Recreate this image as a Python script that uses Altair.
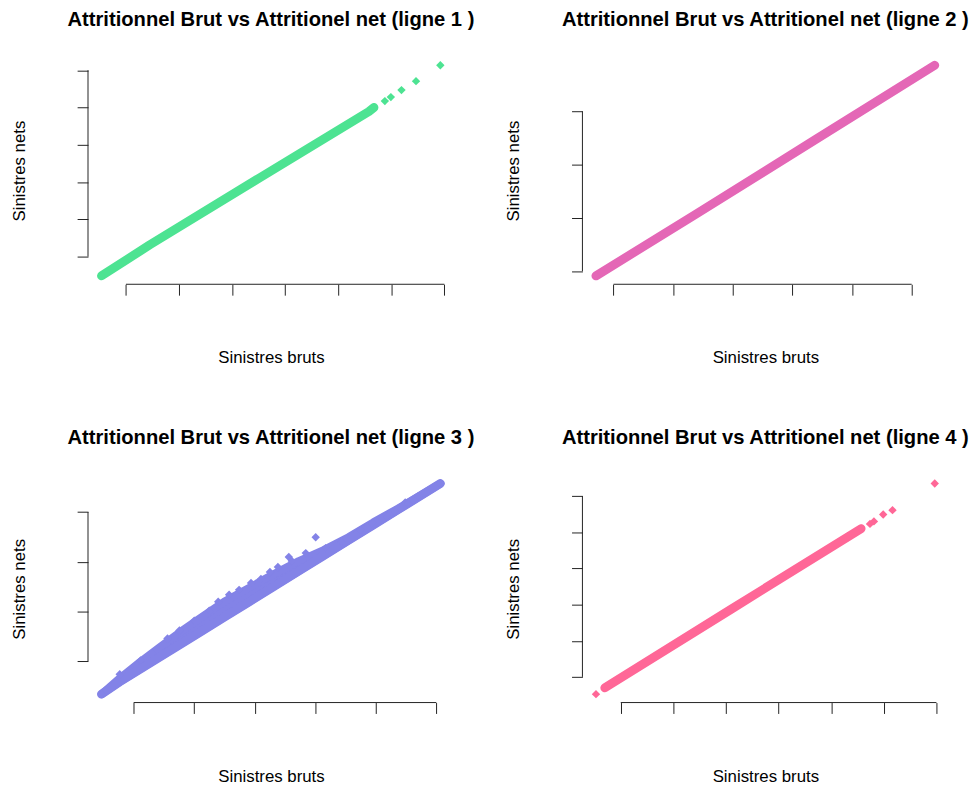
import altair as alt
import pandas as pd

FONT = "Liberation Sans"
TITLE = "Attritionnel Brut vs Attritionel net (ligne {} )"
AXIS_COLOR = "#222222"

# ---- ligne 1 : dense band of claims, then the few largest ones
l1_band_brut = [5.40, 14.50, 35.14, 55.78, 56.72]
l1_band_net = [4.82, 13.15, 31.09, 48.92, 49.99]
l1_pts_brut = [5.40, 56.72, 58.78, 59.91, 61.91, 64.65, 69.23]
l1_pts_net = [4.82, 49.99, 51.72, 52.79, 54.66, 57.06, 61.33]
l1_xticks = [10, 20, 30, 40, 50, 60, 70]
l1_yticks = [10, 20, 30, 40, 50, 60]

# ---- ligne 2
l2_band_brut = [7.06, 24.00, 43.85, 63.87]
l2_band_net = [9.12, 20.84, 34.71, 48.68]
l2_pts_brut = [7.06, 62.20, 63.87]
l2_pts_net = [9.12, 47.60, 48.68]
l2_xticks = [10, 20, 30, 40, 50, 60]
l2_yticks = [10, 20, 30, 40]

# ---- ligne 3 : wedge of claims, net above gross for part of them
l3_cloud_brut = [4.70, 7.70, 10.99, 14.27, 17.56, 20.84, 24.95, 29.06,
                 33.17, 37.28, 41.38, 45.49, 49.60, 53.71, 60.66]
l3_cloud_net_bas = [3.34, 5.82, 8.30, 10.78, 13.26, 15.72, 18.82, 21.92,
                    25.02, 28.12, 31.22, 34.32, 37.42, 40.50, 45.74]
l3_cloud_net_haut = [3.34, 6.54, 9.74, 12.74, 15.74, 18.54, 21.94, 24.74,
                     27.54, 30.14, 32.34, 34.94, 37.94, 40.74, 45.74]
l3_pts_brut = [4.70, 7.70, 11.15, 12.96, 15.59, 17.56, 20.02, 22.49, 23.97,
               25.77, 27.42, 29.39, 31.03, 32.51, 33.83, 35.63, 36.13, 38.43,
               40.07, 41.71, 44.34, 47.46, 49.43, 51.90, 53.21, 54.86, 55.35,
               56.99, 60.66]
l3_pts_net = [3.34, 7.34, 10.14, 11.54, 14.54, 16.14, 18.14, 20.14, 21.94,
              23.34, 24.34, 25.74, 26.54, 27.94, 28.94, 30.94, 30.14, 31.74,
              34.94, 32.74, 33.94, 36.34, 37.74, 39.14, 40.14, 41.94, 41.74,
              43.14, 45.74]
l3_xticks = [10, 20, 30, 40, 50, 60]
l3_yticks = [10, 20, 30, 40]

# ---- ligne 4
l4_band_brut = [6.98, 31.17, 55.67]
l4_band_net = [6.97, 28.89, 51.01]
l4_pts_brut = [5.29, 6.98, 55.67, 57.37, 58.12, 59.88, 61.65, 69.68]
l4_pts_net = [5.23, 6.97, 51.01, 52.33, 53.02, 54.95, 56.14, 63.50]
l4_xticks = [10, 20, 30, 40, 50, 60, 70]
l4_yticks = [10, 20, 30, 40, 50, 60]

COLORS = ["#4de392", "#e467b6", "#8383e7", "#ff6797"]

W, H = 370, 230


def padded(values):
    # base-R style axis range: data range widened by 4% on each side
    lo, hi = min(values), max(values)
    d = (hi - lo) * 0.04
    return [lo - d, hi + d]


def panel(num, color, band, pts, xticks, yticks, cloud=None):
    xs_all = list(band[0]) + list(pts[0])
    ys_all = list(band[1]) + list(pts[1])
    xdom = padded(xs_all)
    ydom = padded(ys_all)
    xscale = alt.Scale(domain=xdom, nice=False, zero=False)
    yscale = alt.Scale(domain=ydom, nice=False, zero=False)

    xaxis = alt.Axis(values=xticks, labels=False, domain=False, grid=False,
                     tickSize=11, tickColor=AXIS_COLOR, tickWidth=1,
                     title="Sinistres bruts", titleFont=FONT, titleFontSize=17,
                     titleFontWeight="normal", titleColor="#000000",
                     titlePadding=55)
    yaxis = alt.Axis(values=yticks, labels=False, domain=False, grid=False,
                     tickSize=11, tickColor=AXIS_COLOR, tickWidth=1,
                     title="Sinistres nets", titleFont=FONT, titleFontSize=17,
                     titleFontWeight="normal", titleColor="#000000",
                     titlePadding=49)

    def X(field):
        return alt.X(field, type="quantitative", scale=xscale, axis=xaxis)

    def Y(field):
        return alt.Y(field, type="quantitative", scale=yscale, axis=yaxis)

    band_df = pd.DataFrame({"brut": band[0], "net": band[1],
                            "i": list(range(len(band[0])))})
    pts_df = pd.DataFrame({"brut": pts[0], "net": pts[1]})
    xline_df = pd.DataFrame({"brut": [xticks[0]], "brut_fin": [xticks[-1]],
                             "net": [ydom[0]]})
    yline_df = pd.DataFrame({"brut": [xdom[0]], "net": [yticks[0]],
                             "net_fin": [yticks[-1]]})

    layers = []
    if cloud is not None:
        cloud_df = pd.DataFrame({"brut": cloud[0], "net": cloud[2],
                                 "net_bas": cloud[1]})
        layers.append(
            alt.Chart(cloud_df).mark_area(
                color=color, stroke=color, strokeWidth=8,
                strokeJoin="round", opacity=1
            ).encode(x=X("brut"), y=Y("net"), y2=alt.Y2("net_bas"))
        )
    layers.append(
        alt.Chart(band_df).mark_line(
            color=color, strokeWidth=9, strokeCap="round", strokeJoin="round"
        ).encode(x=X("brut"), y=Y("net"), order="i:Q")
    )
    layers.append(
        alt.Chart(pts_df).mark_point(
            shape="diamond", filled=True, size=72, color=color, opacity=1
        ).encode(x=X("brut"), y=Y("net"))
    )
    layers.append(
        alt.Chart(xline_df).mark_rule(color=AXIS_COLOR, strokeWidth=1).encode(
            x=X("brut"), x2=alt.X2("brut_fin"), y=Y("net"))
    )
    layers.append(
        alt.Chart(yline_df).mark_rule(color=AXIS_COLOR, strokeWidth=1).encode(
            x=X("brut"), y=Y("net"), y2=alt.Y2("net_fin"))
    )

    return alt.layer(*layers).properties(
        width=W, height=H,
        title=alt.TitleParams(TITLE.format(num), font=FONT, fontSize=20.4,
                              fontWeight="bold", color="#000000",
                              anchor="middle", offset=27),
    )


p1 = panel(1, COLORS[0], (l1_band_brut, l1_band_net),
           (l1_pts_brut, l1_pts_net), l1_xticks, l1_yticks)
p2 = panel(2, COLORS[1], (l2_band_brut, l2_band_net),
           (l2_pts_brut, l2_pts_net), l2_xticks, l2_yticks)
p3 = panel(3, COLORS[2], (l3_cloud_brut, l3_cloud_net_bas),
           (l3_pts_brut, l3_pts_net), l3_xticks, l3_yticks,
           cloud=(l3_cloud_brut, l3_cloud_net_bas, l3_cloud_net_haut))
p4 = panel(4, COLORS[3], (l4_band_brut, l4_band_net),
           (l4_pts_brut, l4_pts_net), l4_xticks, l4_yticks)

chart = alt.concat(
    p1, p2, p3, p4, columns=2,
    spacing={"row": 193, "column": 130}, bounds="flush",
).properties(
    padding={"left": 10, "top": 5, "right": 5, "bottom": 5},
    background="#ffffff",
).configure_view(stroke="transparent")

chart.save("out.html", embed_options={"renderer": "svg", "actions": False})
